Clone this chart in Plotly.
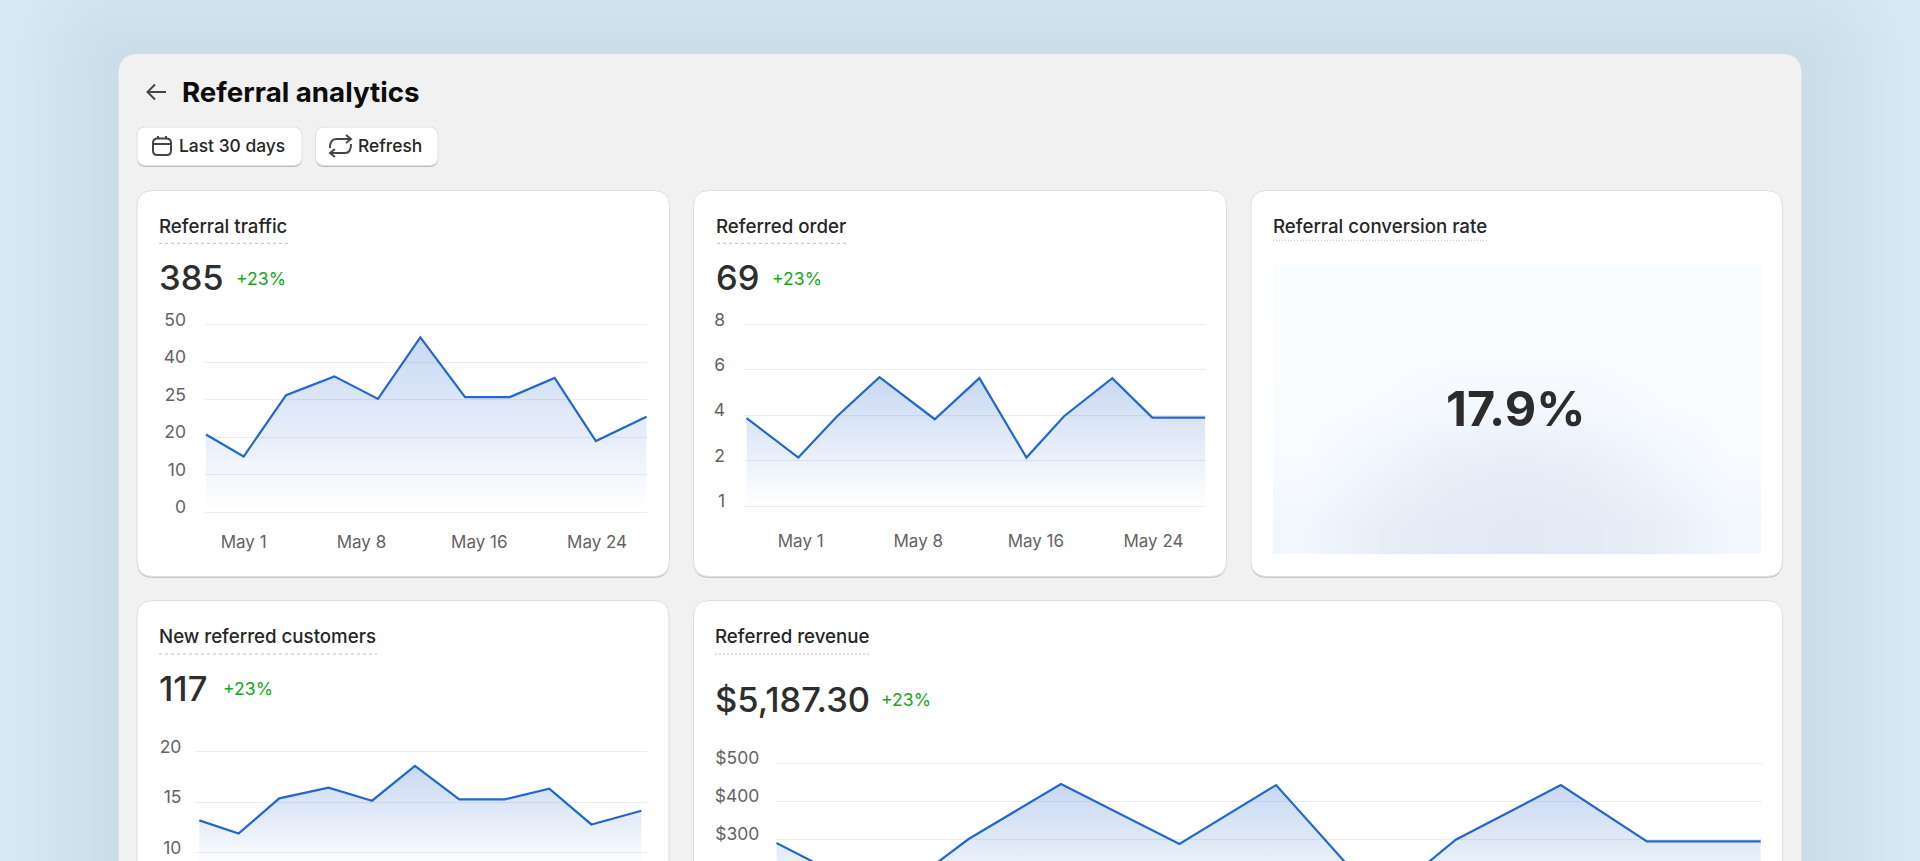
import numpy as np
import plotly.graph_objects as go

W, H = 1920, 861

# Referral traffic
traffic_x = [-0.32, 0.0, 0.36, 0.77, 1.14, 1.5, 1.88, 2.26, 2.64, 2.99, 3.42]
traffic_y = [20.35, 14.8, 26.8, 34.3, 25.3, 46.6, 26.0, 26.0, 33.7, 18.95, 22.7]
traffic_ticks = [0, 10, 20, 25, 40, 50]

# Referred order
order_x = [-0.46, -0.02, 0.31, 0.67, 1.14, 1.52, 1.92, 2.24, 2.65, 2.99, 3.44]
order_y = [3.88, 2.14, 3.96, 5.68, 3.83, 5.64, 2.14, 3.96, 5.64, 3.9, 3.9]
order_ticks = [1, 2, 4, 6, 8]

# New referred customers
customers_x = [-0.334, 0.0, 0.346, 0.765, 1.135, 1.5, 1.877, 2.262, 2.642, 3.0, 3.425]
customers_y = [13.2, 11.9, 15.38, 16.44, 15.15, 18.6, 15.28, 15.28, 16.34, 12.8, 14.16]
customers_ticks = [10, 15, 20]

# Referred revenue
revenue_x = [-0.44, 0.0, 0.32, 0.685, 1.153, 1.535, 1.947, 2.245, 2.66, 3.0, 3.45]
revenue_y = [289.5, 140, 300, 444.7, 286.8, 442, 135, 298, 442, 293.9, 293.9]
revenue_ticks = [300, 400, 500]
revenue_labels = ["$300", "$400", "$500"]

date_ticks = [0, 1, 2, 3]
date_labels = ["May 1", "May 8", "May 16", "May 24"]

# shade of the conversion tile, bottom row first
glow = [
    [0.30, 0.62, 0.85, 0.95, 0.85, 0.62, 0.30],
    [0.12, 0.35, 0.60, 0.70, 0.60, 0.35, 0.12],
    [0.06, 0.12, 0.22, 0.27, 0.22, 0.12, 0.06],
    [0.03, 0.05, 0.08, 0.08, 0.08, 0.05, 0.03],
    [0.02, 0.02, 0.02, 0.02, 0.02, 0.02, 0.02],
]

FONT = "Inter"
LINE = "#2467cc"
GRID = "#ececec"
TICK = "#636363"
INK = "#262626"
GREEN = "#16a81e"


def px(x):
    return x / W


def py(y):
    return 1 - y / H


def rounded(x0, y0, x1, y1, r):
    # rounded box in paper coordinates, given in page pixels
    pts = [
        f"M {px(x0 + r)} {py(y0)}", f"L {px(x1 - r)} {py(y0)}",
        f"Q {px(x1)} {py(y0)} {px(x1)} {py(y0 + r)}", f"L {px(x1)} {py(y1 - r)}",
        f"Q {px(x1)} {py(y1)} {px(x1 - r)} {py(y1)}", f"L {px(x0 + r)} {py(y1)}",
        f"Q {px(x0)} {py(y1)} {px(x0)} {py(y1 - r)}", f"L {px(x0)} {py(y0 + r)}",
        f"Q {px(x0)} {py(y0)} {px(x0 + r)} {py(y0)}", "Z",
    ]
    return " ".join(pts)


def box(x0, y0, x1, y1, r, fill, line=None):
    return dict(type="path", xref="paper", yref="paper", layer="below", path=rounded(x0, y0, x1, y1, r),
                fillcolor=fill, line=dict(color=line or fill, width=1 if line else 0))


def stroke(points, color="#454545", width=2):
    # open icon stroke, points in page pixels; 4-tuples are a curve with its control point first
    d = []
    for i, p in enumerate(points):
        if len(p) == 4:
            d.append(f"Q {px(p[0])} {py(p[1])} {px(p[2])} {py(p[3])}")
        else:
            d.append(f"{'M' if i == 0 else 'L'} {px(p[0])} {py(p[1])}")
    return dict(type="path", xref="paper", yref="paper", path=" ".join(d), line=dict(color=color, width=width))


def text(s, x, y, size, color=INK, weight=400, anchor="left"):
    return dict(text=s, x=px(x), y=py(y), xref="paper", yref="paper", showarrow=False, xanchor=anchor,
                yanchor="middle", align=anchor, font=dict(family=FONT, size=size, color=color, weight=weight))


def card_shapes(x0, y0, x1, y1):
    return [box(x0, y0 + 1.5, x1, y1 + 1.5, 16, "#c6c6c6"), box(x0, y0, x1, y1, 16, "#ffffff", "#dedede")]


def underline(x0, x1, y, dash="3px,3px", color="#bdbdbd"):
    return dict(type="line", xref="paper", yref="paper", x0=px(x0), x1=px(x1), y0=py(y), y1=py(y),
                line=dict(color=color, width=1, dash=dash))


fig = go.Figure()

shapes = []
# soft shadow around the panel
for grow in range(99, 0, -9):
    shapes.append(box(118.5 - grow, 58 - grow, 1801.5 + grow, 1000, 20 + grow, "rgba(90,130,140,0.007)"))
shapes.append(box(118.5, 54, 1801.5, 1000, 20, "#f1f1f1"))

# buttons
for x0, x1 in [(137, 302), (315.5, 438)]:
    shapes.append(box(x0, 128.5, x1, 167, 9, "#bdbdbd"))
    shapes.append(box(x0, 127, x1, 165.5, 9, "#ffffff", "#e0e0e0"))

# cards
shapes += card_shapes(137, 190.5, 669.5, 576.5)
shapes += card_shapes(693.5, 190.5, 1226.5, 576.5)
shapes += card_shapes(1251, 190.5, 1782.5, 576.5)
shapes += card_shapes(137, 600.5, 669, 1000)
shapes += card_shapes(693.5, 600.5, 1782.5, 1000)

# title underlines
shapes.append(underline(159, 289, 243.3))
shapes.append(underline(717, 847, 243.3))
shapes.append(underline(1273, 1487, 240.3, "1px,2px"))
shapes.append(underline(159, 377, 654, "3px,3px"))
shapes.append(underline(715, 870, 654, "2px,2px"))

# back arrow, calendar, refresh icons
shapes.append(stroke([(166, 92), (147.5, 92)]))
shapes.append(stroke([(155, 84.5), (147.5, 92), (155, 99.5)]))
shapes.append(dict(type="path", xref="paper", yref="paper", path=rounded(153, 138.5, 171, 155, 4.5),
                   line=dict(color="#454545", width=2)))
shapes.append(stroke([(153, 144), (171, 144)]))
shapes.append(stroke([(158, 136), (158, 139)]))
shapes.append(stroke([(166, 136), (166, 139)]))
shapes.append(stroke([(330, 148), (330, 139, 336, 139), (351, 139)]))
shapes.append(stroke([(346, 135), (351, 139), (346, 143)]))
shapes.append(stroke([(351, 144), (351, 153, 345, 153), (330, 153)]))
shapes.append(stroke([(335, 149), (330, 153), (335, 157)]))

annotations = [
    text("Referral analytics", 179.5, 92, 27.7, "#0c0c0c", 700),
    text("Last 30 days", 176.5, 145.5, 17.4, INK, 500),
    text("Refresh", 355.5, 145.5, 17.4, INK, 500),
    text("Referral traffic", 157, 226.5, 18.7, INK, 500),
    text("385", 157, 277.5, 34.5, "#2e2e2e", 500),
    text("+23%", 234, 278, 17.6, GREEN),
    text("Referred order", 714, 226.5, 18.7, INK, 500),
    text("69", 714, 277.5, 34.5, "#2e2e2e", 500),
    text("+23%", 770, 278, 17.6, GREEN),
    text("Referral conversion rate", 1271, 226.5, 18.7, INK, 500),
    text("17.9%", 1515.5, 408.5, 48.5, "#2c2c2c", 700, "center"),
    text("New referred customers", 157, 636.5, 18.7, INK, 500),
    text("117", 157, 688, 34.5, "#2e2e2e", 500),
    text("+23%", 221, 688, 17.6, GREEN),
    text("Referred revenue", 713, 636.5, 18.7, INK, 500),
    text("$5,187.30", 713, 699.5, 34.5, "#2e2e2e", 500),
    text("+23%", 879, 699.5, 17.6, GREEN),
]


def add_area(i, x, y, grad_start, grad_stop):
    fig.add_trace(go.Scatter(
        x=x, y=y, mode="lines", xaxis=f"x{i}", yaxis=f"y{i}", fill="tozeroy", hoverinfo="skip",
        line=dict(color=LINE, width=2.2, shape="linear"),
        fillgradient=dict(type="vertical", start=grad_start, stop=grad_stop,
                          colorscale=[[0, "rgba(36,99,204,0)"], [1, "rgba(36,99,204,0.25)"]]),
    ))


def x_axis(x0, x1, lo, hi, i, labels=True, standoff=21):
    return dict(domain=[px(x0), px(x1)], range=[lo, hi], anchor=f"y{i}", tickmode="array", tickvals=date_ticks,
                ticktext=date_labels, showticklabels=labels, showgrid=False, zeroline=False, showline=False,
                ticks="", ticklabelstandoff=standoff, automargin=False,
                tickfont=dict(family=FONT, size=17, color=TICK))


def y_axis(y0, y1, lo, hi, i, vals, labels, standoff=18):
    return dict(domain=[py(y1), py(y0)], range=[lo, hi], anchor=f"x{i}", tickmode="array", tickvals=vals,
                ticktext=labels, showgrid=True, gridcolor=GRID, gridwidth=1, zeroline=False, showline=False,
                ticks="", ticklabelstandoff=standoff, ticklabelshift=-5, automargin=False,
                tickfont=dict(family=FONT, size=17.5, color=TICK))


# the first two charts use unevenly stepped tick values spaced evenly on the axis
traffic_pos = list(range(len(traffic_ticks)))
order_pos = list(range(len(order_ticks)))
add_area(1, traffic_x, np.interp(traffic_y, traffic_ticks, traffic_pos), 0, 4.66)
add_area(2, order_x, np.interp(order_y, order_ticks, order_pos), 0, 2.84)
add_area(3, customers_x, customers_y, 8.4, 18.6)
add_area(4, revenue_x, revenue_y, 100, 444.7)

fig.add_trace(go.Heatmap(
    z=glow, xaxis="x5", yaxis="y5", zsmooth="best", showscale=False, hoverinfo="skip", zmin=0, zmax=1,
    colorscale=[[0, "#fbfdff"], [0.25, "#f3f8fe"], [0.6, "#e8eff9"], [1, "#e2e8f3"]],
))

fig.update_layout(
    width=W,
    height=H,
    autosize=False,
    margin=dict(l=0, r=0, t=0, b=0),
    paper_bgcolor="#d5e8f3",
    plot_bgcolor="rgba(0,0,0,0)",
    showlegend=False,
    shapes=shapes,
    annotations=annotations,
    xaxis=x_axis(205, 647, -0.328, 3.424, 1, standoff=16),
    yaxis=y_axis(322.7, 514, -0.0534, 5.0534, 1, traffic_pos, [str(t) for t in traffic_ticks]),
    xaxis2=x_axis(744, 1206, -0.482, 3.447, 2),
    yaxis2=y_axis(322.5, 508.2, -0.044, 4.044, 2, order_pos, [str(t) for t in order_ticks]),
    xaxis3=x_axis(195.4, 646.8, -0.367, 3.471, 3, labels=False),
    yaxis3=y_axis(749.7, 861, 9.18, 20.2, 3, customers_ticks, [str(t) for t in customers_ticks], 13),
    xaxis4=x_axis(776.3, 1762, -0.44, 3.455, 4, labels=False),
    yaxis4=y_axis(761, 861, 242.1, 505.3, 4, revenue_ticks, revenue_labels, 16),
    xaxis5=dict(domain=[px(1273), px(1761)], anchor="y5", visible=False, automargin=False),
    yaxis5=dict(domain=[py(554.3), py(264.3)], anchor="x5", visible=False, automargin=False),
)

fig.write_html("out.html", config={"displayModeBar": False}, post_script="document.body.style.margin='0';")
